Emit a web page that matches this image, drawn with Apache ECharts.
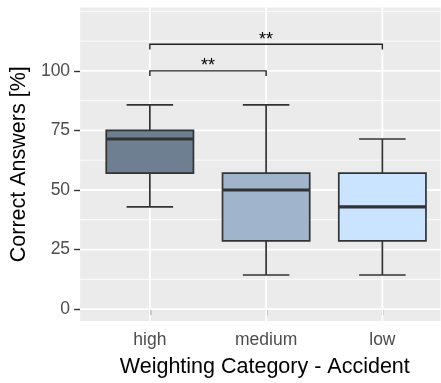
<!DOCTYPE html>
<html>
<head>
<meta charset="utf-8">
<script src="https://cdn.jsdelivr.net/npm/echarts@6/dist/echarts.min.js"></script>
<style>
html,body{margin:0;padding:0;background:#fff;}
#chart{width:441px;height:383px;}
</style>
</head>
<body>
<div id="chart"></div>
<script>
// ---- data ----
const categories = ['high', 'medium', 'low'];
const whiskerLow  = [42.9, 14.3, 14.3];
const q1          = [57.1, 28.6, 28.6];
const median      = [71.4, 50.0, 42.9];
const q3          = [75.0, 57.1, 57.1];
const whiskerHigh = [85.7, 85.7, 71.4];

const bracketStart = ['high', 'high'];
const bracketEnd   = ['medium', 'low'];
const bracketY     = [100, 111.2];
const bracketLabel = ['**', '**'];

const yTickValues  = [0, 25, 50, 75, 100];
const yMinorValues = [12.5, 37.5, 62.5, 87.5, 112.5, 125];

// ---- styles ----
const fills = ['#6E7F91', '#A0B5CC', '#CAE3FF'];
const edge = '#333333';
const BOX_W = 0.75, CAP_W = 0.4, TIP = 2.2;

const xPos = categories.map((c, i) => i + 1);
const boxData = categories.map((c, i) => [xPos[i], whiskerLow[i], q1[i], median[i], q3[i], whiskerHigh[i], i]);
const bracketData = bracketStart.map((s, i) => [categories.indexOf(s) + 1, categories.indexOf(bracketEnd[i]) + 1, bracketY[i], i]);

const gridLineData = [];
yTickValues.forEach(v => gridLineData.push(['h', v, 1]));
yMinorValues.forEach(v => gridLineData.push(['h', v, 0]));
xPos.forEach(v => gridLineData.push(['v', v, 1]));

const chart = echarts.init(document.getElementById('chart'), null, {renderer: 'canvas'});

chart.setOption({
  animation: false,
  backgroundColor: '#ffffff',
  textStyle: {fontFamily: 'Liberation Sans, Arial, sans-serif'},
  grid: {left: 78, right: 0.5, top: 7.5, bottom: 61, show: true, backgroundColor: '#EBEBEB', borderWidth: 0},
  xAxis: {
    type: 'value', min: 0.4, max: 3.5,
    name: 'Weighting Category - Accident', nameLocation: 'middle', nameGap: 35,
    nameTextStyle: {color: '#000', fontSize: 21.5, padding: [0, 0, 0, 9]},
    axisLine: {show: false},
    axisTick: {show: true, customValues: xPos, length: 6, lineStyle: {color: edge, width: 1.4}},
    axisLabel: {customValues: xPos, formatter: v => categories[Math.round(v) - 1], color: '#4D4D4D', fontSize: 17.5, margin: 10},
    splitLine: {show: false}
  },
  yAxis: {
    type: 'value', min: -5, max: 126.6,
    name: 'Correct Answers [%]', nameLocation: 'middle', nameGap: 47,
    nameTextStyle: {color: '#000', fontSize: 21.5},
    axisLine: {show: false},
    axisTick: {show: true, customValues: yTickValues, length: 6, lineStyle: {color: edge, width: 1.4}},
    axisLabel: {customValues: yTickValues, color: '#4D4D4D', fontSize: 17.5, margin: 10},
    splitLine: {show: false}
  },
  series: [
    {
      type: 'custom', z: 1, silent: true,
      data: gridLineData,
      renderItem: function (params, api) {
        const cs = params.coordSys;
        const kind = api.value(0), v = api.value(1), major = api.value(2);
        let shape;
        if (kind === 'h') {
          const y = api.coord([1, v])[1];
          shape = {x1: cs.x, y1: y, x2: cs.x + cs.width, y2: y};
        } else {
          const x = api.coord([v, 0])[0];
          shape = {x1: x, y1: cs.y, x2: x, y2: cs.y + cs.height};
        }
        return {type: 'line', shape: shape, style: {stroke: '#ffffff', lineWidth: major ? 1.8 : 0.9}};
      },
      encode: {x: 1, y: 1}
    },
    {
      type: 'custom', z: 2, silent: true,
      data: boxData,
      encode: {x: 0, y: [1, 2, 3, 4, 5]},
      renderItem: function (params, api) {
        const x = api.value(0);
        const unit = api.size([1, 0])[0];
        const cx = api.coord([x, 0])[0];
        const yLo = api.coord([x, api.value(1)])[1];
        const yQ1 = api.coord([x, api.value(2)])[1];
        const yMed = api.coord([x, api.value(3)])[1];
        const yQ3 = api.coord([x, api.value(4)])[1];
        const yHi = api.coord([x, api.value(5)])[1];
        const hb = unit * BOX_W / 2, hc = unit * CAP_W / 2;
        const ls = {stroke: edge, lineWidth: 1.7};
        return {
          type: 'group',
          children: [
            {type: 'line', shape: {x1: cx, y1: yQ3, x2: cx, y2: yHi}, style: ls},
            {type: 'line', shape: {x1: cx, y1: yQ1, x2: cx, y2: yLo}, style: ls},
            {type: 'line', shape: {x1: cx - hc, y1: yHi, x2: cx + hc, y2: yHi}, style: ls},
            {type: 'line', shape: {x1: cx - hc, y1: yLo, x2: cx + hc, y2: yLo}, style: ls},
            {type: 'rect', shape: {x: cx - hb, y: yQ3, width: 2 * hb, height: yQ1 - yQ3},
             style: {fill: fills[api.value(6)], stroke: edge, lineWidth: 1.7}},
            {type: 'line', shape: {x1: cx - hb, y1: yMed, x2: cx + hb, y2: yMed}, style: {stroke: edge, lineWidth: 3.2}}
          ]
        };
      }
    },
    {
      type: 'custom', z: 3, silent: true,
      data: bracketData,
      encode: {x: [0, 1], y: 2},
      renderItem: function (params, api) {
        const x1 = api.value(0), x2 = api.value(1), yv = api.value(2);
        const p1 = api.coord([x1, yv]), p2 = api.coord([x2, yv]);
        const tipY = api.coord([x1, yv - TIP])[1];
        return {
          type: 'group',
          children: [
            {type: 'polyline', shape: {points: [[p1[0], tipY], p1, p2, [p2[0], tipY]]},
             style: {stroke: '#222', lineWidth: 1.4, fill: null}},
            {type: 'text', x: (p1[0] + p2[0]) / 2, y: p1[1] - 4.5,
             style: {text: bracketLabel[api.value(3)], fill: '#000', fontSize: 18,
                     fontFamily: 'Liberation Sans, Arial, sans-serif', align: 'center', verticalAlign: 'middle'}}
          ]
        };
      }
    }
  ]
});
</script>
</body>
</html>
